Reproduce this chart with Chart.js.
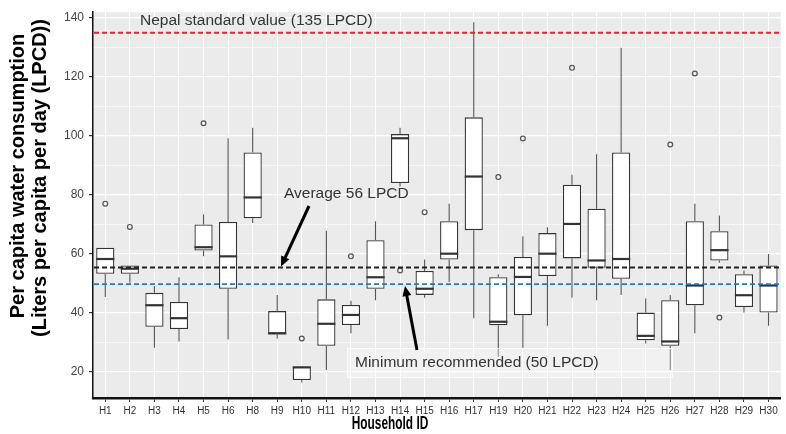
<!DOCTYPE html>
<html>
<head>
<meta charset="utf-8">
<script src="https://cdn.jsdelivr.net/npm/chart.js@4.4.1/dist/chart.umd.min.js"></script>
<style>
  html, body { margin: 0; padding: 0; background: #fff; }
</style>
</head>
<body>
<canvas id="box-chart" width="786" height="434"></canvas>
<script>
// households (H7 and H18 are not in the figure)
var households = ["H1", "H2", "H3", "H4", "H5", "H6", "H8", "H9", "H10", "H11", "H12", "H13", "H14", "H15",
  "H16", "H17", "H19", "H20", "H21", "H22", "H23", "H24", "H25", "H26", "H27", "H28", "H29", "H30"];

// five-number summaries (LPCD)
var whiskerLow  = [45.3, 50.1, 28.1, 30.2, 59.1, 30.9, 70.4, 31.2, 16.3, 20.5, 33.0, 44.2, 82.8, 45.0,
  50.4, 38.1, 25.0, 28.1, 35.5, 45.0, 44.2, 46.0, 29.5, 20.5, 33.0, 56.9, 40.0, 35.5];
var q1          = [53.2, 53.2, 35.2, 34.4, 61.1, 48.1, 72.0, 32.6, 17.1, 28.7, 35.8, 48.1, 84.0, 46.0,
  58.0, 68.0, 35.7, 39.1, 52.4, 58.4, 55.2, 51.5, 30.6, 28.7, 42.5, 57.7, 41.9, 40.0];
var median      = [58.2, 54.9, 42.5, 38.1, 62.2, 59.1, 79.1, 33.0, 21.4, 36.2, 39.2, 52.0, 99.2, 48.1,
  60.0, 86.2, 36.9, 52.1, 60.0, 70.1, 57.7, 58.2, 32.1, 30.2, 49.2, 61.2, 45.9, 49.2];
var q3          = [62.0, 56.0, 46.7, 43.6, 69.9, 70.8, 94.4, 40.5, 21.6, 44.5, 42.6, 64.6, 100.6, 54.1,
  71.0, 106.3, 52.0, 58.9, 67.0, 83.4, 75.3, 94.4, 40.0, 44.2, 71.0, 67.6, 53.0, 56.0];
var whiskerHigh = [62.0, 56.0, 49.0, 52.0, 73.3, 99.2, 102.8, 46.0, 21.9, 67.8, 44.0, 71.0, 102.8, 58.0,
  77.0, 138.6, 53.0, 65.9, 69.0, 86.8, 93.8, 129.9, 44.8, 46.0, 77.0, 73.0, 54.3, 59.9];
var outliers    = [77.0, 69.1, null, null, 104.3, null, null, null, 31.2, null, 59.1, null, 54.3, 74.1,
  null, null, 86.0, 99.1, null, 123.1, null, null, null, 97.1, 121.2, 38.3, null, null];

// reference lines
var nepalStandard = 135;
var averageUse = 55.3;
var minRecommended = 49.7;

var yTicks = [20, 40, 60, 80, 100, 120, 140];
var yMinor = [30, 50, 70, 90, 110, 130];

var boxes = [];
for (var i = 0; i < households.length; i++) {
  boxes.push([q1[i], q3[i]]);
}

function arrow(ctx, x1, y1, x2, y2) {
  var a = Math.atan2(y2 - y1, x2 - x1);
  var hl = 11;
  ctx.strokeStyle = "#000";
  ctx.fillStyle = "#000";
  ctx.lineWidth = 3;
  ctx.beginPath();
  ctx.moveTo(x1, y1);
  ctx.lineTo(x2 - Math.cos(a) * hl * 0.8, y2 - Math.sin(a) * hl * 0.8);
  ctx.stroke();
  ctx.beginPath();
  ctx.moveTo(x2, y2);
  ctx.lineTo(x2 - hl * Math.cos(a - 0.42), y2 - hl * Math.sin(a - 0.42));
  ctx.lineTo(x2 - hl * Math.cos(a + 0.42), y2 - hl * Math.sin(a + 0.42));
  ctx.closePath();
  ctx.fill();
}

var boxExtras = {
  id: "boxExtras",
  beforeDraw: function(chart) {
    var a = chart.chartArea, ctx = chart.ctx;
    ctx.save();
    ctx.fillStyle = "#EBEBEB";
    ctx.fillRect(a.left, a.top, a.right - a.left, a.bottom - a.top);
    ctx.restore();
  },
  afterDatasetsDraw: function(chart) {
    var ctx = chart.ctx, y = chart.scales.y, a = chart.chartArea;
    var meta = chart.getDatasetMeta(0);
    ctx.save();
    for (var i = 0; i < meta.data.length; i++) {
      var bar = meta.data[i];
      var half = bar.width / 2;
      // whiskers
      ctx.strokeStyle = "#555";
      ctx.lineWidth = 1.1;
      ctx.beginPath();
      ctx.moveTo(bar.x, y.getPixelForValue(q3[i]));
      ctx.lineTo(bar.x, y.getPixelForValue(whiskerHigh[i]));
      ctx.moveTo(bar.x, y.getPixelForValue(q1[i]));
      ctx.lineTo(bar.x, y.getPixelForValue(whiskerLow[i]));
      ctx.stroke();
      // median
      ctx.strokeStyle = "#333";
      ctx.lineWidth = 2.2;
      ctx.beginPath();
      ctx.moveTo(bar.x - half, y.getPixelForValue(median[i]));
      ctx.lineTo(bar.x + half, y.getPixelForValue(median[i]));
      ctx.stroke();
    }

    // dashed reference lines
    var refs = [[nepalStandard, "#E8222A", 2], [averageUse, "#222", 2], [minRecommended, "#2B78B4", 1.8]];
    ctx.setLineDash([5, 3]);
    for (var r = 0; r < refs.length; r++) {
      var py = y.getPixelForValue(refs[r][0]);
      ctx.strokeStyle = refs[r][1];
      ctx.lineWidth = refs[r][2];
      ctx.beginPath();
      ctx.moveTo(a.left + 1, py);
      ctx.lineTo(a.right, py);
      ctx.stroke();
    }
    ctx.setLineDash([]);

    // annotations
    ctx.font = "15.5px 'Liberation Sans', Arial, sans-serif";
    ctx.fillStyle = "#333";
    ctx.textBaseline = "alphabetic";
    ctx.textAlign = "left";
    ctx.fillText("Nepal standard value (135 LPCD)", 140, 25);
    ctx.fillText("Average 56 LPCD", 284, 198);

    ctx.fillStyle = "rgba(255,255,255,0.3)";
    ctx.strokeStyle = "rgba(255,255,255,0.9)";
    ctx.lineWidth = 1;
    ctx.fillRect(347, 348, 325, 29);
    ctx.strokeRect(347.5, 348.5, 325, 29);
    ctx.fillStyle = "#333";
    ctx.fillText("Minimum recommended (50 LPCD)", 355, 367);

    arrow(ctx, 309, 206, 281, y.getPixelForValue(averageUse) - 1);
    arrow(ctx, 417, 350, 405, y.getPixelForValue(minRecommended) + 2);
    ctx.restore();
  },
  afterDraw: function(chart) {
    var ctx = chart.ctx;
    ctx.save();
    ctx.fillStyle = "#000";
    ctx.textAlign = "center";
    ctx.textBaseline = "middle";
    ctx.font = "bold 20px 'Liberation Sans', Arial, sans-serif";
    ctx.translate(18, 176);
    ctx.rotate(-Math.PI / 2);
    ctx.fillText("Per capita water consumption", 0, 0);
    ctx.fillText("(Liters per capita per day (LPCD))", -2, 22);
    ctx.restore();

    ctx.save();
    ctx.fillStyle = "#000";
    ctx.textAlign = "center";
    ctx.textBaseline = "middle";
    ctx.font = "bold 18px 'Liberation Sans', Arial, sans-serif";
    ctx.translate(390, 424);
    ctx.scale(0.66, 1);
    ctx.fillText("Household ID", 0, 0);
    ctx.restore();
  }
};

new Chart(document.getElementById("box-chart"), {
  type: "bar",
  data: {
    labels: households,
    datasets: [
      {
        label: "IQR",
        data: boxes,
        backgroundColor: "#fff",
        borderColor: "#333",
        borderWidth: 1.3,
        borderSkipped: false,
        barPercentage: 0.74,
        categoryPercentage: 1
      },
      {
        type: "line",
        label: "outliers",
        data: outliers,
        showLine: false,
        pointRadius: 2.4,
        pointBorderWidth: 1.2,
        pointBorderColor: "#555",
        pointBackgroundColor: "rgba(0,0,0,0)"
      }
    ]
  },
  options: {
    responsive: false,
    animation: false,
    devicePixelRatio: 1,
    layout: { padding: { top: 10, right: 0, bottom: 0, left: 0 } },
    plugins: { legend: { display: false }, tooltip: { enabled: false } },
    scales: {
      x: {
        offset: true,
        grid: { offset: false, color: "#fff", lineWidth: 1, tickLength: 4, tickColor: "#333" },
        border: { color: "#111", width: 2.5 },
        ticks: { font: { size: 10, family: "'Liberation Sans', Arial, sans-serif" }, color: "#333",
          padding: 3, maxRotation: 0, autoSkip: false },
        afterFit: function(s) { s.height = 36; }
      },
      y: {
        min: 11,
        max: 142,
        afterBuildTicks: function(s) {
          s.ticks = yTicks.concat(yMinor).sort(function(p, q) { return p - q; })
            .map(function(v) { return { value: v }; });
        },
        grid: {
          color: "#fff",
          lineWidth: function(c) { return c.tick && yTicks.indexOf(c.tick.value) >= 0 ? 1.2 : 0.6; },
          tickLength: 4,
          tickColor: function(c) { return c.tick && yTicks.indexOf(c.tick.value) >= 0 ? "#333" : "rgba(0,0,0,0)"; }
        },
        border: { color: "#111", width: 1.5 },
        ticks: {
          font: { size: 12, family: "'Liberation Sans', Arial, sans-serif" },
          color: "#444",
          padding: 5,
          callback: function(v) { return yTicks.indexOf(v) >= 0 ? v : ""; }
        },
        afterFit: function(s) { s.width = 93; }
      }
    }
  },
  plugins: [boxExtras]
});
</script>
</body>
</html>
